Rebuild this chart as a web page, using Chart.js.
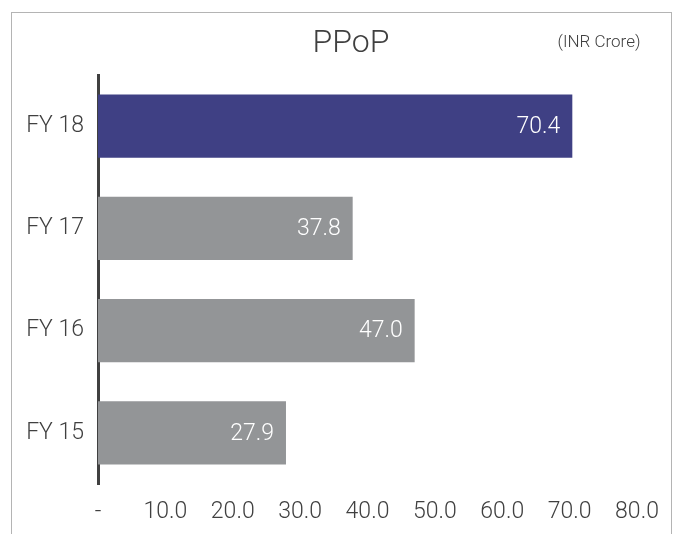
<!DOCTYPE html>
<html>
<head>
<meta charset="utf-8">
<title>PPoP</title>
<script src="https://cdn.jsdelivr.net/npm/chart.js@4"></script>
<style>
  html, body { margin: 0; padding: 0; background: #fff; }
  canvas { display: block; }
</style>
</head>
<body>
<canvas id="ppopChart" width="678" height="534"></canvas>
<script>
const years = ['FY 18', 'FY 17', 'FY 16', 'FY 15'];
const ppop = [70.4, 37.8, 47.0, 27.9];
const barColors = ['#3f4084', '#939597', '#939597', '#939597'];
const xTicks = [0, 10, 20, 30, 40, 50, 60, 70, 80];

const textColor = '#404040';
const fontFamily = 'Roboto, "Liberation Sans", sans-serif';

// frame, title and unit text
const decorations = {
    id: 'decorations',
    beforeDraw(chart) {
        const ctx = chart.ctx;
        ctx.save();
        ctx.strokeStyle = '#b4b4b4';
        ctx.lineWidth = 1;
        ctx.strokeRect(11.5, 12.5, 660, 600);
        ctx.fillStyle = textColor;
        ctx.textAlign = 'center';
        ctx.textBaseline = 'alphabetic';
        ctx.font = '300 32px ' + fontFamily;
        ctx.fillText('PPoP', 351, 52);
        ctx.font = '300 17px ' + fontFamily;
        ctx.fillText('(INR Crore)', 599, 47);
        ctx.restore();
    }
};

// value labels inside the bars
const valueLabels = {
    id: 'valueLabels',
    afterDatasetsDraw(chart) {
        const ctx = chart.ctx;
        const meta = chart.getDatasetMeta(0);
        ctx.save();
        ctx.fillStyle = '#ffffff';
        ctx.font = '300 23px ' + fontFamily;
        ctx.textAlign = 'right';
        ctx.textBaseline = 'middle';
        meta.data.forEach((bar, i) => {
            ctx.fillText(ppop[i].toFixed(1), bar.x - 12, bar.y + 1);
        });
        ctx.restore();
    }
};

const ctx = document.getElementById('ppopChart').getContext('2d');
new Chart(ctx, {
    type: 'bar',
    data: {
        labels: years,
        datasets: [{
            data: ppop,
            backgroundColor: barColors,
            borderWidth: 0,
            barPercentage: 0.62,
            categoryPercentage: 1
        }]
    },
    options: {
        indexAxis: 'y',
        responsive: false,
        animation: false,
        layout: { padding: { left: 0, right: 41, top: 75, bottom: 0 } },
        plugins: {
            legend: { display: false },
            tooltip: { enabled: false }
        },
        scales: {
            x: {
                min: 0,
                max: 80,
                afterBuildTicks: (scale) => { scale.ticks = xTicks.map(v => ({ value: v })); },
                grid: { display: false, drawTicks: false },
                border: { display: false },
                ticks: {
                    color: textColor,
                    font: { family: fontFamily, size: 23, weight: 300 },
                    padding: 14,
                    maxRotation: 0,
                    autoSkip: false,
                    callback: (v) => v === 0 ? '-' : v.toFixed(1)
                },
                afterFit: (scale) => { scale.height = 50; }
            },
            y: {
                grid: { display: false, drawTicks: false },
                border: { display: true, color: '#404040', width: 3 },
                ticks: {
                    color: textColor,
                    font: { family: fontFamily, size: 23, weight: 300 },
                    padding: 14
                },
                afterFit: (scale) => { scale.width = 98; }
            }
        }
    },
    plugins: [decorations, valueLabels]
});
</script>
</body>
</html>
